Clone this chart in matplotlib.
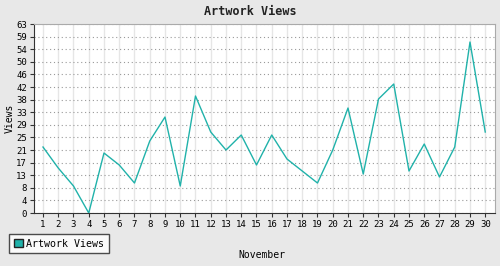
import numpy as np
import matplotlib
matplotlib.use('Agg')
import matplotlib.pyplot as plt
from matplotlib.patches import Patch

days = list(range(1, 31))
views = [22, 15, 9, 0, 20, 16, 10, 24, 32, 9, 39, 27, 21, 26, 16,
         26, 18, 14, 10, 21, 35, 13, 38, 43, 14, 23, 12, 22, 57, 27]
ytick_labels = ['0', '4', '8', '13', '17', '21', '25', '29', '33', '38',
                '42', '46', '50', '54', '59', '63']
series_name = 'Artwork Views'

plt.rcParams['font.family'] = 'DejaVu Sans Mono'
line_col = '#20b2aa'

fig = plt.figure(figsize=(5, 2.66), dpi=100)
fig.patch.set_facecolor('#e8e8e8')
ax = fig.add_axes([0.068, 0.1992, 0.922, 0.7105])
ax.set_facecolor('white')

ax.plot(days, views, color=line_col, lw=1.0)

yt = np.arange(16) * 63 / 15
ax.set_yticks(yt)
ax.set_yticklabels(ytick_labels)
ax.set_xticks(days)
ax.set_ylim(0, 63)
ax.set_xlim(0.41, 30.64)

ax.yaxis.grid(True, color='#999999', ls=(0, (1, 2.5)), lw=0.8)
ax.xaxis.grid(True, color='#e6e6e6', lw=1.0)
ax.set_axisbelow(True)

ax.tick_params(labelsize=6.5, length=3, width=0.8, color='#333333', pad=2)
for s in ['left', 'bottom']:
    ax.spines[s].set_color('#333333')
for s in ['top', 'right']:
    ax.spines[s].set_color('#aaaaaa')

fig.text(0.5, 0.955, 'Artwork Views', ha='center', va='center',
         fontsize=8.5, fontweight='bold', color='#222222')
ax.set_ylabel('Views', fontsize=7, labelpad=1)
fig.text(0.524, 0.04, 'November', ha='center', va='center', fontsize=7)

leg = fig.legend(handles=[Patch(facecolor=line_col, edgecolor='#222222', label=series_name)],
                 loc='lower left', bbox_to_anchor=(0.008, 0.03), fontsize=7.2,
                 frameon=True, fancybox=False, handlelength=0.9, handleheight=0.9,
                 handletextpad=0.4, borderpad=0.45)
leg.get_frame().set_edgecolor('#222222')
leg.get_frame().set_linewidth(1.0)

fig.savefig('out.png', dpi=100, facecolor=fig.get_facecolor())
